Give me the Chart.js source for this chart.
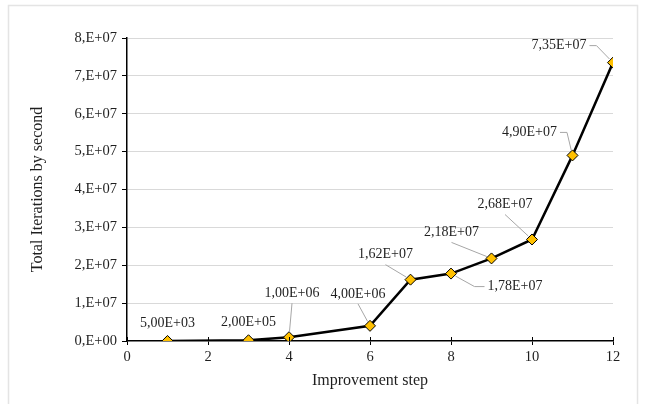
<!DOCTYPE html>
<html>
<head>
<meta charset="utf-8">
<script src="https://cdn.jsdelivr.net/npm/chart.js@4.4.1/dist/chart.umd.min.js"></script>
<style>
  html, body { margin: 0; padding: 0; background: #ffffff; }
  #wrap { width: 645px; height: 404px; position: relative; }
</style>
</head>
<body>
<div id="wrap"><canvas id="chart" width="645" height="404"></canvas></div>
<script>
// data
const steps = [1, 3, 4, 6, 7, 8, 9, 10, 11, 12];
const iterations = [5.00e3, 2.00e5, 1.00e6, 4.00e6, 1.62e7, 1.78e7, 2.18e7, 2.68e7, 4.90e7, 7.35e7];
const xTicks = [0, 2, 4, 6, 8, 10, 12];
const yTicks = [0, 1e7, 2e7, 3e7, 4e7, 5e7, 6e7, 7e7, 8e7];

// where each value label sits relative to its point (dx, dy, leader kind)
const labelPlace = [
    [0, -18, "none"],
    [0, -18, "none"],
    [3, -44, "below"],
    [-12, -32, "below"],
    [-25, -25, "below"],
    [64, 13, "left"],
    [-40, -26, "below"],
    [-27, -35, "below"],
    [-43, -23, "right"],
    [-54, -17, "right"]
];

const serif = "'Liberation Serif', 'Times New Roman', serif";
const textColor = "#1f1f1f";

function sciLabel(v) {
    const exp = v === 0 ? 0 : Math.floor(Math.log10(v));
    const mant = (v / Math.pow(10, exp)).toFixed(2).replace(".", ",");
    return mant + "E+" + String(exp).padStart(2, "0");
}

function tickLabel(v) {
    if (v === 0) return "0,E+00";
    const exp = Math.floor(Math.log10(v));
    return Math.round(v / Math.pow(10, exp)) + ",E+" + String(exp).padStart(2, "0");
}

// outer frame of the chart
const framePlugin = {
    id: "frame",
    beforeDraw(chart) {
        const ctx = chart.ctx;
        ctx.save();
        ctx.strokeStyle = "#e4e4e4";
        ctx.lineWidth = 1.5;
        ctx.strokeRect(8.5, 5.5, 629, 500);
        ctx.restore();
    }
};

// x ticks crossing the axis (upper half)
const crossTicks = {
    id: "crossTicks",
    afterDraw(chart) {
        const ctx = chart.ctx;
        const xs = chart.scales.x;
        const y0 = chart.chartArea.bottom;
        ctx.save();
        ctx.strokeStyle = "#000";
        ctx.lineWidth = 1;
        xTicks.forEach(t => {
            const px = Math.round(xs.getPixelForValue(t)) + 0.5;
            ctx.beginPath();
            ctx.moveTo(px, y0);
            ctx.lineTo(px, y0 - 4);
            ctx.stroke();
        });
        ctx.restore();
    }
};

// value labels with leader lines
const valueLabels = {
    id: "valueLabels",
    afterDatasetsDraw(chart) {
        const ctx = chart.ctx;
        const meta = chart.getDatasetMeta(0);
        ctx.save();
        ctx.font = "14px " + serif;
        ctx.textAlign = "center";
        ctx.textBaseline = "middle";
        meta.data.forEach((pt, i) => {
            const [dx, dy, kind] = labelPlace[i];
            const txt = sciLabel(iterations[i]);
            const lx = pt.x + dx, ly = pt.y + dy;
            const w = ctx.measureText(txt).width;

            if (kind !== "none") {
                let path = [];
                if (kind === "below") {
                    path = [[lx, ly + 10]];
                } else if (kind === "left") {
                    const sx = lx - w / 2 - 3;
                    path = [[sx, ly], [sx - 10, ly]];
                } else {
                    const sx = lx + w / 2 + 3;
                    path = [[sx, ly], [sx + 7, ly]];
                }
                const last = path[path.length - 1];
                const ddx = pt.x - last[0], ddy = pt.y - last[1];
                const len = Math.hypot(ddx, ddy);
                const end = [pt.x - ddx / len * 5, pt.y - ddy / len * 5];
                ctx.strokeStyle = "#a6a6a6";
                ctx.lineWidth = 1;
                ctx.beginPath();
                ctx.moveTo(path[0][0], path[0][1]);
                for (let k = 1; k < path.length; k++) ctx.lineTo(path[k][0], path[k][1]);
                ctx.lineTo(end[0], end[1]);
                ctx.stroke();
            }
            ctx.fillStyle = textColor;
            ctx.fillText(txt, lx, ly);
        });
        ctx.restore();
    }
};

new Chart(document.getElementById("chart"), {
    type: "line",
    data: {
        datasets: [{
            data: steps.map((s, i) => ({ x: s, y: iterations[i] })),
            borderColor: "#000000",
            borderWidth: 2.5,
            tension: 0,
            pointStyle: "rectRot",
            pointRadius: 5.5,
            pointBackgroundColor: "#ffc000",
            pointBorderColor: "#000000",
            pointBorderWidth: 1
        }]
    },
    options: {
        responsive: false,
        animation: false,
        devicePixelRatio: 1,
        layout: { padding: { left: 24, top: 38, right: 32, bottom: 10 } },
        plugins: {
            legend: { display: false },
            tooltip: { enabled: false }
        },
        scales: {
            x: {
                type: "linear",
                min: 0,
                max: 12,
                afterFit(scale) { scale.height = 53; },
                afterBuildTicks(scale) { scale.ticks = xTicks.map(v => ({ value: v })); },
                grid: {
                    drawOnChartArea: false,
                    tickLength: 4,
                    tickColor: "#000"
                },
                border: { color: "#000", width: 1.5 },
                ticks: {
                    color: textColor,
                    font: { family: serif, size: 14.5 },
                    padding: 3
                },
                title: {
                    display: true,
                    text: "Improvement step",
                    color: textColor,
                    font: { family: serif, size: 16 },
                    padding: { top: 4, bottom: 4 }
                }
            },
            y: {
                min: 0,
                max: 8e7,
                afterFit(scale) { scale.width = 103; },
                afterBuildTicks(scale) { scale.ticks = yTicks.map(v => ({ value: v })); },
                grid: {
                    color: ctx => ctx.tick && ctx.tick.value === 0 ? "rgba(0,0,0,0)" : "#d9d9d9",
                    tickColor: "#000",
                    tickLength: 5,
                    lineWidth: 1
                },
                border: { color: "#000", width: 1.5 },
                ticks: {
                    color: textColor,
                    font: { family: serif, size: 14.5 },
                    padding: 5,
                    callback: v => tickLabel(v)
                },
                title: {
                    display: true,
                    text: "Total Iterations by second",
                    color: textColor,
                    font: { family: serif, size: 16 },
                    padding: { top: 4, bottom: 4 }
                }
            }
        }
    },
    plugins: [framePlugin, crossTicks, valueLabels]
});
</script>
</body>
</html>
